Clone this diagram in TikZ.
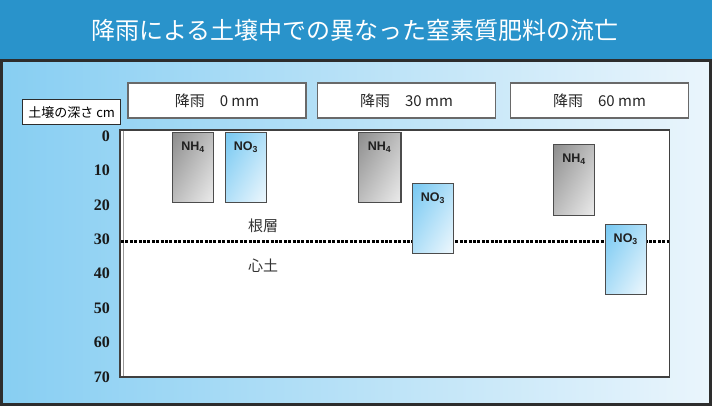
\documentclass[tikz,border=0pt]{standalone}
\usepackage{fontspec}
\setmainfont{Liberation Sans}
\newfontfamily\jp{Noto Sans CJK JP}
\newfontfamily\depthfont{Liberation Serif}
\usetikzlibrary{calc}
\usetikzlibrary{shadings}

\definecolor{hdrblue}{RGB}{41,147,203}
\definecolor{bgleft}{RGB}{135,206,242}
\definecolor{bgright}{RGB}{234,245,252}
\definecolor{frameline}{RGB}{45,45,45}
\definecolor{boxgray}{RGB}{105,105,105}
\definecolor{nhdark}{RGB}{140,140,140}
\definecolor{nhmid}{RGB}{190,190,190}
\definecolor{nhlight}{RGB}{236,236,236}
\definecolor{nodark}{RGB}{118,200,242}
\definecolor{nomid}{RGB}{178,224,248}
\definecolor{nolight}{RGB}{240,248,253}

\begin{document}
\begin{tikzpicture} [x=1pt,y=-1pt,
  rainbox/.style={draw=boxgray, line width=1.2pt, fill=white, minimum width=178pt, minimum height=35pt, inner sep=0pt, font=\jp\fontsize{15}{15}\selectfont, text=black!85},
  depth/.style={anchor=east, inner sep=0pt, font=\depthfont\bfseries\fontsize{16}{16}\selectfont, text=black!90},
  layer/.style={inner sep=0pt, font=\jp\fontsize{15}{15}\selectfont, text=black!80},
  nhbar/.style={upper left=nhdark, upper right=nhmid, lower left=nhmid, lower right=nhlight},
  nobar/.style={upper left=nodark, upper right=nomid, lower left=nomid, lower right=nolight},
  ion/.style={anchor=base, inner sep=0pt, font=\bfseries\fontsize{12.5}{12.5}\selectfont, text=black!88}]
\useasboundingbox (0,0) rectangle (712,406);
\fill[hdrblue] (0,0) rectangle (712,59.5);
\node[text=white, font=\jp\fontsize{24}{24}\selectfont] (title) at (355,30) {降雨による土壌中での異なった窒素質肥料の流亡};
\fill[left color=bgleft, right color=bgright] (0,59.5) rectangle (712,406);
\draw[frameline, line width=2.6pt] (1.3,60.8) rectangle (710.7,404.7);
\node[rainbox] (r0) at (217,100.5) {降雨　0 mm};
\node[rainbox] (r30) at (406.5,100.5) {降雨　30 mm};
\node[rainbox] (r60) at (599.5,100.5) {降雨　60 mm};
\node[draw=frameline, line width=1.1pt, fill=white, minimum width=98pt, minimum height=25.5pt, inner sep=0pt, font=\jp\fontsize{13}{13}\selectfont] (unit) at (71.7,112.2) {土壌の深さ cm};
\filldraw[fill=white, draw=black!75, line width=1.5pt] (120,130) rectangle (669.5,377);
\draw[black!40, line width=0.6pt] (123,131) -- (123,376);
\foreach \d in {0,10,...,70} {
 \node[depth] (d\d) at (110,{136+3.44*\d}) {\d};
}
\node[layer] (root) at (263,226) {根層};
\node[layer] (sub) at (263,266) {心土};
\draw[black, line width=2.3pt, dash pattern=on 3pt off 1.4pt] (121,241.5) -- (668.5,241.5);
\shade[nhbar] (172.3,132.3) rectangle (213.7,202.7);
\shade[nobar] (225.3,132.3) rectangle (266.7,202.7);
\shade[nhbar] (358.3,132.3) rectangle (401,202.7);
\shade[nobar] (412.3,183.3) rectangle (453.7,253.3);
\shade[nhbar] (553.3,144.3) rectangle (594.7,215.7);
\shade[nobar] (605.3,224.3) rectangle (646.3,294.3);
\draw[black!70, line width=1.1pt] (172.3,132.3) rectangle (213.7,202.7) (225.3,132.3) rectangle (266.7,202.7)
 (358.3,132.3) rectangle (401,202.7) (412.3,183.3) rectangle (453.7,253.3)
 (553.3,144.3) rectangle (594.7,215.7) (605.3,224.3) rectangle (646.3,294.3);
\node[ion] (nh0) at (193,151) {NH\textsubscript{4}};
\node[ion] (no0) at (246,151) {NO\textsubscript{3}};
\node[ion] (nh30) at (379.6,151) {NH\textsubscript{4}};
\node[ion] (no30) at (433,202) {NO\textsubscript{3}};
\node[ion] (nh60) at (574,163) {NH\textsubscript{4}};
\node[ion] (no60) at (625.8,243) {NO\textsubscript{3}};
\end{tikzpicture}
\end{document}
